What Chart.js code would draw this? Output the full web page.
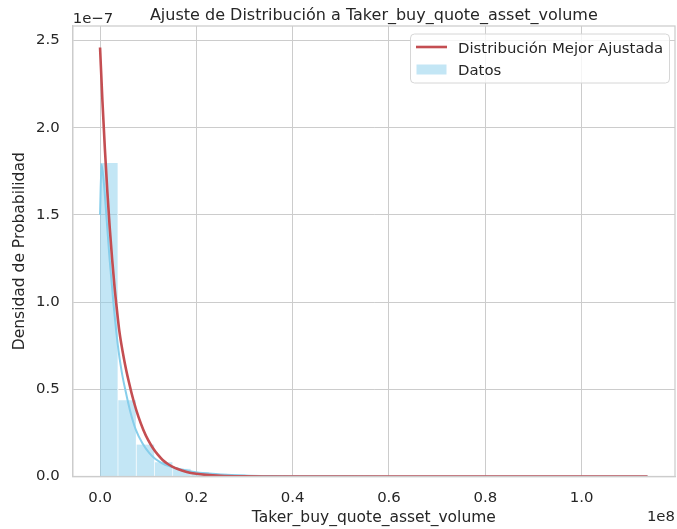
<!DOCTYPE html>
<html>
<head>
<meta charset="utf-8">
<script src="https://cdn.jsdelivr.net/npm/chart.js@4.4.1/dist/chart.umd.min.js"></script>
<style>
  html, body { margin: 0; padding: 0; background: #ffffff; }
  #wrap { width: 677px; height: 529px; }
</style>
</head>
<body>
<div id="wrap"><canvas id="distChart" width="677" height="529"></canvas></div>
<script>
// Valores del eje x en unidades de 1e8, densidades en unidades de 1e-7
const binCenters = [0.01895, 0.05685, 0.09475, 0.13265, 0.17055, 0.20845, 0.24635, 0.28425, 0.32215, 0.36005,
                    0.39795, 0.43585, 0.47375, 0.51165, 0.54955, 0.58745, 0.62535, 0.66325, 0.70115, 0.73905,
                    0.77695, 0.81485, 0.85275, 0.89065, 0.92855, 0.96645, 1.00435, 1.04225, 1.08015, 1.11805];
const binDensity = [1.797, 0.437, 0.183, 0.082, 0.044, 0.025, 0.016, 0.011, 0.008, 0.006,
                    0.004, 0.003, 0.003, 0.002, 0.002, 0.001, 0.001, 0.001, 0.001, 0.0005,
                    0.0005, 0.0005, 0.0003, 0.0003, 0.0003, 0.0002, 0.0002, 0.0001, 0.0001, 0.0001];

// curva KDE de los datos
const kdeX = [0, 0.003, 0.008, 0.013, 0.020, 0.0276, 0.037, 0.045, 0.053, 0.063, 0.074, 0.088, 0.102, 0.115,
              0.129, 0.143, 0.157, 0.175, 0.192, 0.22, 0.25, 0.30, 0.35, 0.40, 0.50, 0.70, 0.90, 1.137];
const kdeY = [1.50, 1.79, 1.68, 1.50, 1.24, 1.00, 0.75, 0.60, 0.49, 0.37, 0.27, 0.19, 0.135, 0.10,
              0.076, 0.06, 0.049, 0.037, 0.028, 0.018, 0.012, 0.006, 0.003, 0.0015, 0.0008, 0.0003, 0.0002, 0.0001];

// distribución mejor ajustada
const fitX = [0, 0.005, 0.01, 0.015, 0.02, 0.025, 0.03, 0.035, 0.04, 0.05, 0.06, 0.07, 0.08, 0.09, 0.10,
              0.11, 0.12, 0.13, 0.14, 0.15, 0.16, 0.18, 0.20, 0.22, 0.25, 0.30, 0.35, 0.40, 0.50, 0.80, 1.137];
const fitY = [2.46, 2.15, 1.88, 1.64, 1.43, 1.25, 1.09, 0.956, 0.835, 0.67, 0.54, 0.43, 0.34, 0.267, 0.208,
              0.162, 0.125, 0.095, 0.073, 0.057, 0.044, 0.026, 0.0155, 0.0092, 0.0042, 0.0012, 0.0003, 0.0001, 0, 0, 0];

const xTickStep = 0.2;
const yTickStep = 0.5;

const FONT = '"DejaVu Sans", "Liberation Sans", sans-serif';
const textColor = '#262626';
const gridColor = '#cccccc';
const redColor = '#c44e52';
const kdeColor = '#87ceeb';
const barColor = 'rgba(135, 206, 235, 0.5)';

// marco, título, textos de desplazamiento y leyenda
const decorPlugin = {
    id: 'decor',
    afterDatasetsDraw(chart) {
        const { ctx, chartArea: a } = chart;
        ctx.save();
        ctx.strokeStyle = gridColor;
        ctx.lineWidth = 1.25;
        ctx.strokeRect(a.left, a.top, a.right - a.left, a.bottom - a.top);
        ctx.restore();
    },
    afterDraw(chart) {
        const { ctx, chartArea: a } = chart;
        ctx.save();
        ctx.fillStyle = textColor;

        ctx.font = '16px ' + FONT;
        ctx.textAlign = 'center';
        ctx.textBaseline = 'alphabetic';
        ctx.fillText('Ajuste de Distribución a Taker_buy_quote_asset_volume', (a.left + a.right) / 2, 20);

        ctx.font = '14.9px ' + FONT;
        ctx.textAlign = 'left';
        ctx.fillText('1e\u22127', a.left, 23);
        ctx.textAlign = 'right';
        ctx.fillText('1e8', a.right, 521);

        // leyenda
        const lx = 410.5, ly = 34, lw = 259, lh = 49;
        ctx.beginPath();
        ctx.roundRect(lx, ly, lw, lh, 4);
        ctx.fillStyle = 'rgba(255, 255, 255, 0.8)';
        ctx.fill();
        ctx.strokeStyle = '#d6d6d6';
        ctx.lineWidth = 1;
        ctx.stroke();

        ctx.strokeStyle = redColor;
        ctx.lineWidth = 2.6;
        ctx.beginPath();
        ctx.moveTo(416, 47);
        ctx.lineTo(447, 47);
        ctx.stroke();

        ctx.fillStyle = barColor;
        ctx.fillRect(416.5, 64.5, 30, 10);

        ctx.fillStyle = textColor;
        ctx.textAlign = 'left';
        ctx.fillText('Distribución Mejor Ajustada', 458, 52.5);
        ctx.fillText('Datos', 458, 74.5);
        ctx.restore();
    }
};

const ctx = document.getElementById('distChart').getContext('2d');

const chart = new Chart(ctx, {
    type: 'bar',
    data: {
        datasets: [
            {
                type: 'line',
                label: 'Distribución Mejor Ajustada',
                data: fitX.map((x, i) => ({ x: x, y: fitY[i] })),
                borderColor: redColor,
                borderWidth: 2.6,
                pointRadius: 0,
                fill: false,
                cubicInterpolationMode: 'monotone',
                order: 1
            },
            {
                type: 'line',
                label: 'KDE',
                data: kdeX.map((x, i) => ({ x: x, y: kdeY[i] })),
                borderColor: kdeColor,
                borderWidth: 2,
                pointRadius: 0,
                fill: false,
                cubicInterpolationMode: 'monotone',
                order: 2
            },
            {
                type: 'bar',
                label: 'Datos',
                data: binCenters.map((x, i) => ({ x: x, y: binDensity[i] })),
                backgroundColor: barColor,
                borderColor: '#ffffff',
                borderWidth: { left: 0, right: 1, top: 0, bottom: 0 },
                borderSkipped: false,
                barPercentage: 1,
                categoryPercentage: 1,
                order: 3
            }
        ]
    },
    options: {
        responsive: false,
        animation: false,
        layout: { padding: { left: 0, top: 26, right: 2, bottom: 0 } },
        plugins: {
            legend: { display: false },
            tooltip: { enabled: false },
            title: { display: false }
        },
        scales: {
            x: {
                type: 'linear',
                offset: false,
                min: -0.0568,
                max: 1.194,
                afterFit: function(scale) { scale.height = 52.5; },
                ticks: {
                    stepSize: xTickStep,
                    includeBounds: false,
                    padding: 13,
                    color: textColor,
                    font: { family: FONT, size: 14.9 },
                    maxRotation: 0,
                    callback: v => v.toFixed(1)
                },
                grid: { color: gridColor, lineWidth: 1, drawTicks: false, offset: false },
                border: { color: gridColor, width: 1.25 },
                title: {
                    display: true,
                    text: 'Taker_buy_quote_asset_volume',
                    color: textColor,
                    font: { family: FONT, size: 15.5 },
                    padding: { top: 0, bottom: 2 }
                }
            },
            y: {
                min: 0,
                max: 2.583,
                afterFit: function(scale) { scale.width = 72.7; },
                ticks: {
                    stepSize: yTickStep,
                    includeBounds: false,
                    padding: 13,
                    color: textColor,
                    font: { family: FONT, size: 14.9 },
                    callback: v => v.toFixed(1)
                },
                grid: { color: gridColor, lineWidth: 1, drawTicks: false },
                border: { color: gridColor, width: 1.25 },
                title: {
                    display: true,
                    text: 'Densidad de Probabilidad',
                    color: textColor,
                    font: { family: FONT, size: 15.5 },
                    padding: { top: 10.7, bottom: 0 }
                }
            }
        }
    },
    plugins: [decorPlugin]
});
</script>
</body>
</html>
